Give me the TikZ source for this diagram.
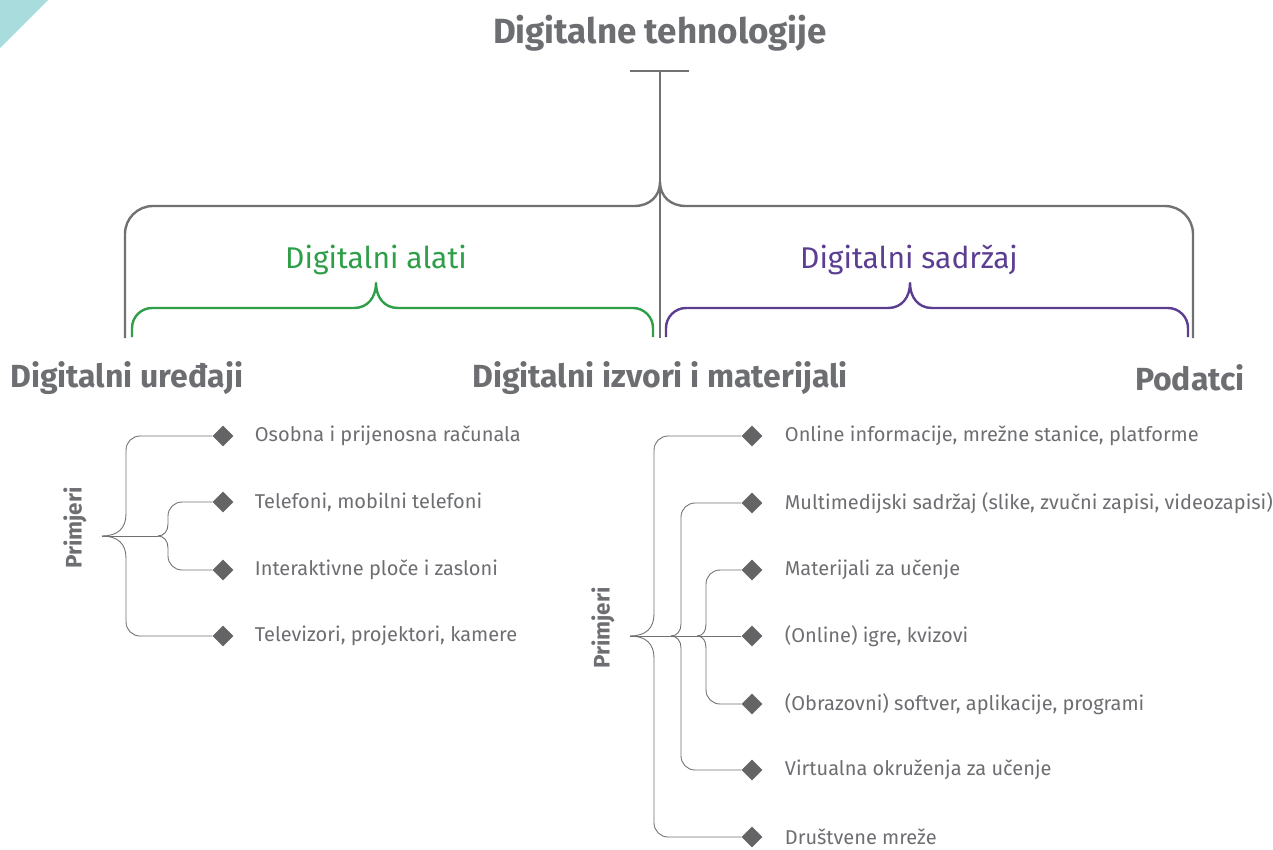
\documentclass[tikz,border=0pt]{standalone}
\usepackage{fontspec}
\setmainfont{Fira Sans}
\usetikzlibrary{positioning,shapes.geometric}

\definecolor{txtgray}{HTML}{6D6E71}
\definecolor{linegray}{HTML}{707173}
\definecolor{diagray}{HTML}{646466}
\definecolor{algreen}{HTML}{2E9F48}
\definecolor{sadpurple}{HTML}{5B3D92}
\definecolor{cornerteal}{HTML}{A9DCDC}

\begin{document}
\begin{tikzpicture}[x=1pt, y=-1pt,
  head/.style={font=\bfseries\fontsize{32}{36}\selectfont, text=txtgray, inner sep=0pt},
  group/.style={font=\fontsize{30}{34}\selectfont, inner sep=0pt},
  item/.style={font=\fontsize{20}{24}\selectfont, text=txtgray, inner sep=0pt},
  side/.style={font=\bfseries\fontsize{22.5}{26}\selectfont, text=txtgray, rotate=90, inner sep=0pt},
  dia/.style={diamond, fill=diagray, inner sep=0pt, minimum size=21pt},
  brace/.style={line width=2.4pt, line join=round},
  branch/.style={draw=linegray, line width=0.9pt},
  elbow/.style={rounded corners=14pt}]
  \useasboundingbox (0,0) rectangle (1273,849);
  \fill[cornerteal] (0,0) -- (48,0) -- (0,48) -- cycle;

  % titles
  \node[head, font=\bfseries\fontsize{35}{40}\selectfont] (title) at (660,33) {Digitalne tehnologije};
  \node[group, text=algreen] (alati) at (376,260) {Digitalni alati};
  \node[group, text=sadpurple] (sadrzaj) at (909,260) {Digitalni sadržaj};
  \node[head, anchor=west] (uredjaji) at (10,378) {Digitalni uređaji};
  \node[head] (izvori) at (660,378) {Digitalni izvori i materijali};
  \node[head, anchor=east] (podatci) at (1245,378) {Podatci};

  % braces
  \coordinate (tbar) at (660,71);
  \draw[brace, draw=linegray] (630,71) -- (689,71);
  \draw[brace, draw=linegray] (tbar) -- (660,338);
  \draw[brace, draw=linegray] (125,338) -- (125,234) .. controls (125,218.5) and (137.5,206) .. (153,206)
    -- (634,206) .. controls (650,206) and (660,196) .. (660,182)
    .. controls (660,196) and (670,206) .. (686,206)
    -- (1165,206) .. controls (1180.5,206) and (1193,218.5) .. (1193,234) -- (1193,338);
  \draw[brace, draw=algreen] (132,337) -- (132,328) .. controls (132,317) and (141,308) .. (152,308)
    -- (354,308) .. controls (368,308) and (376,297) .. (376,283)
    .. controls (376,297) and (384,308) .. (398,308)
    -- (633,308) .. controls (644,308) and (653,317) .. (653,328) -- (653,337);
  \draw[brace, draw=sadpurple] (666,337) -- (666,328) .. controls (666,317) and (675,308) .. (686,308)
    -- (888,308) .. controls (902,308) and (910,297) .. (910,283)
    .. controls (910,297) and (918,308) .. (932,308)
    -- (1168,308) .. controls (1179,308) and (1188,317) .. (1188,328) -- (1188,337);

  % left examples
  \node[side] (lprim) at (75,528) {Primjeri};
  \coordinate (lroot) at (102,536);
  \node[dia] (ld1) at (223,436) {};
  \node[dia] (ld2) at (223,502) {};
  \node[dia] (ld3) at (223,570) {};
  \node[dia] (ld4) at (223,636) {};
  \node[item, anchor=west, right=21pt of ld1] (lt1) {Osobna i prijenosna računala};
  \node[item, anchor=west, right=21pt of ld2] (lt2) {Telefoni, mobilni telefoni};
  \node[item, anchor=west, right=21pt of ld3] (lt3) {Interaktivne ploče i zasloni};
  \node[item, anchor=west, right=21pt of ld4] (lt4) {Televizori, projektori, kamere};

  \draw[branch] (lroot) .. controls (118,536) and (126,528) .. (126,514) [elbow] |- (ld1);
  \draw[branch] (lroot) .. controls (118,536) and (126,544) .. (126,558) [elbow] |- (ld4);
  \draw[branch] (lroot) -- (158,536);
  \draw[branch] (158,536) .. controls (164,536) and (168,531) .. (168,524) [elbow] |- (ld2);
  \draw[branch] (158,536) .. controls (164,536) and (168,541) .. (168,548) [elbow] |- (ld3);

  % right examples
  \node[side] (rprim) at (603,628) {Primjeri};
  \coordinate (rroot) at (630,636);
  \node[dia] (rd1) at (752,436) {};
  \node[dia] (rd2) at (752,503) {};
  \node[dia] (rd3) at (752,570) {};
  \node[dia] (rd4) at (752,636) {};
  \node[dia] (rd5) at (752,704) {};
  \node[dia] (rd6) at (752,770) {};
  \node[dia] (rd7) at (752,837) {};
  \node[item, anchor=west, right=22pt of rd1] (rt1) {Online informacije, mrežne stanice, platforme};
  \node[item, anchor=west, right=22pt of rd2] (rt2) {Multimedijski sadržaj (slike, zvučni zapisi, videozapisi)};
  \node[item, anchor=west, right=22pt of rd3] (rt3) {Materijali za učenje};
  \node[item, anchor=west, right=22pt of rd4] (rt4) {(Online) igre, kvizovi};
  \node[item, anchor=west, right=22pt of rd5] (rt5) {(Obrazovni) softver, aplikacije, programi};
  \node[item, anchor=west, right=22pt of rd6] (rt6) {Virtualna okruženja za učenje};
  \node[item, anchor=west, right=22pt of rd7] (rt7) {Društvene mreže};

  \draw[branch] (rroot) -- (rd4);
  \draw[branch] (rroot) .. controls (646,636) and (654,628) .. (654,614) [elbow] |- (rd1);
  \draw[branch] (rroot) .. controls (646,636) and (654,644) .. (654,658) [elbow] |- (rd7);
  \draw[branch] (671,636) .. controls (677,636) and (681,631) .. (681,624) [elbow] |- (rd2);
  \draw[branch] (671,636) .. controls (677,636) and (681,641) .. (681,648) [elbow] |- (rd6);
  \draw[branch] (697,636) .. controls (703,636) and (706,631) .. (706,624) [elbow] |- (rd3);
  \draw[branch] (697,636) .. controls (703,636) and (706,641) .. (706,648) [elbow] |- (rd5);
\end{tikzpicture}
\end{document}
